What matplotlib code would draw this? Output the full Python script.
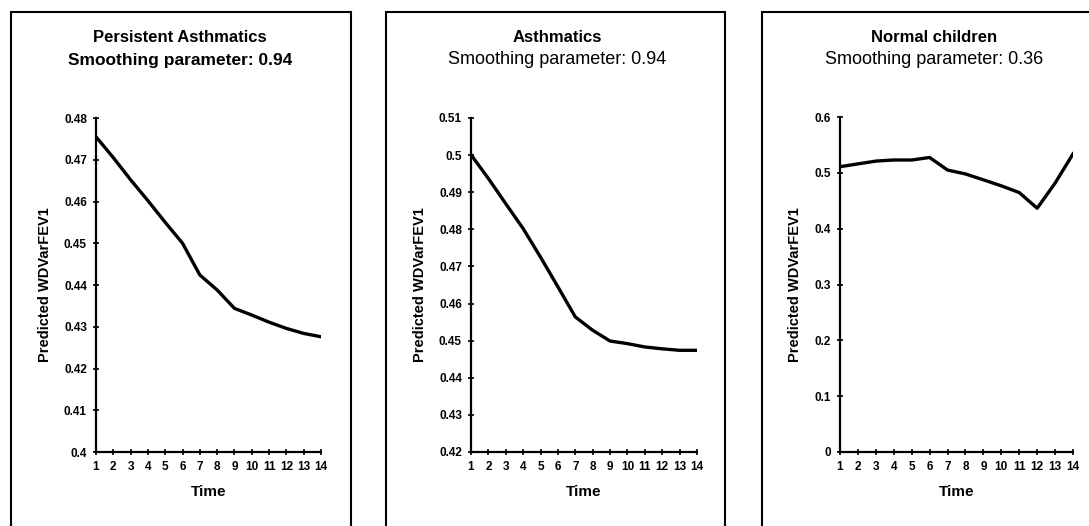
import numpy as np
import matplotlib
matplotlib.use("Agg")
import matplotlib.pyplot as plt
from matplotlib.patches import Rectangle

plt.rcParams['font.family'] = ['Liberation Sans', 'DejaVu Sans']

time = np.arange(1, 15)

persistent = [0.4755, 0.4705, 0.4652, 0.4602, 0.4550, 0.4500, 0.4424, 0.4388,
              0.4344, 0.4328, 0.4311, 0.4296, 0.4284, 0.4276]
asthmatics = [0.5001, 0.4937, 0.4869, 0.4802, 0.4725, 0.4645, 0.4564, 0.4528,
              0.4499, 0.4492, 0.4483, 0.4478, 0.4474, 0.4474]
normal = [0.511, 0.516, 0.521, 0.523, 0.523, 0.5275, 0.505, 0.498,
          0.4875, 0.4767, 0.4647, 0.4366, 0.4815, 0.534]

titles = ["Persistent Asthmatics", "Asthmatics", "Normal children"]
smoothing = ["0.94", "0.94", "0.36"]
series = [persistent, asthmatics, normal]
yticks = [np.arange(0.40, 0.4801, 0.01), np.arange(0.42, 0.5101, 0.01), np.arange(0.0, 0.601, 0.1)]
ytick_labels = [
    ["0.4", "0.41", "0.42", "0.43", "0.44", "0.45", "0.46", "0.47", "0.48"],
    ["0.42", "0.43", "0.44", "0.45", "0.46", "0.47", "0.48", "0.49", "0.5", "0.51"],
    ["0", "0.1", "0.2", "0.3", "0.4", "0.5", "0.6"],
]

W, H = 1089, 526
fig = plt.figure(figsize=(W / 100, H / 100), dpi=100)

# pixel layout: axes (left, right, top, bottom), frames (left, right), title centre, ylabel x
axes_px = [(96, 321, 118, 452), (471, 697, 118, 452), (840, 1073, 117, 452)]
frames_px = [(11, 351), (386, 725), (762, 1095)]
title_cx = [180, 557, 934]
ylabel_x = [52, 427, 802]
second_bold = [True, False, False]

for i in range(3):
    l, r, t, b = axes_px[i]
    ax = fig.add_axes([l / W, 1 - b / H, (r - l) / W, (b - t) / H])
    ax.plot(time, series[i], color="black", linewidth=2.4, solid_joinstyle="round")
    ax.set_xlim(1, 14)
    ax.set_ylim(yticks[i][0], yticks[i][-1])
    ax.set_xticks(time)
    ax.set_xticklabels([str(v) for v in time], fontsize=8.5, fontweight="bold")
    ax.set_yticks(yticks[i])
    ax.set_yticklabels(ytick_labels[i], fontsize=8.5, fontweight="bold")
    for s in ["top", "right"]:
        ax.spines[s].set_visible(False)
    for s in ["left", "bottom"]:
        ax.spines[s].set_linewidth(1.6)
    ax.tick_params(direction="inout", length=5, width=1.2, pad=4)
    ax.set_xlabel("Time", fontsize=11, fontweight="bold")
    ax.set_ylabel("Predicted WDVarFEV1", fontsize=10.5, fontweight="bold")
    ax.xaxis.set_label_coords(0.5, (b - 485) / (b - t))
    ax.yaxis.set_label_coords((ylabel_x[i] - l) / (r - l), (b - 285) / (b - t))

    cx = title_cx[i]
    fig.text(cx / W, 1 - 37 / H, titles[i], ha="center", va="center",
             fontsize=12, fontweight="bold")
    if second_bold[i]:
        fig.text(cx / W, 1 - 60 / H, "Smoothing parameter: " + smoothing[i], ha="center",
                 va="center", fontsize=12.5, fontweight="bold")
    else:
        fig.text(cx / W, 1 - 60 / H, "Smoothing parameter: " + smoothing[i], ha="center",
                 va="center", fontsize=13, fontweight="normal")

    # panel frame
    fl, fr = frames_px[i]
    fig.patches.append(Rectangle((fl / W, -0.05), (fr - fl) / W, 1.05 - 12 / H,
                                 transform=fig.transFigure, fill=False,
                                 edgecolor="black", linewidth=1.5))

fig.savefig("out.png", dpi=100)
